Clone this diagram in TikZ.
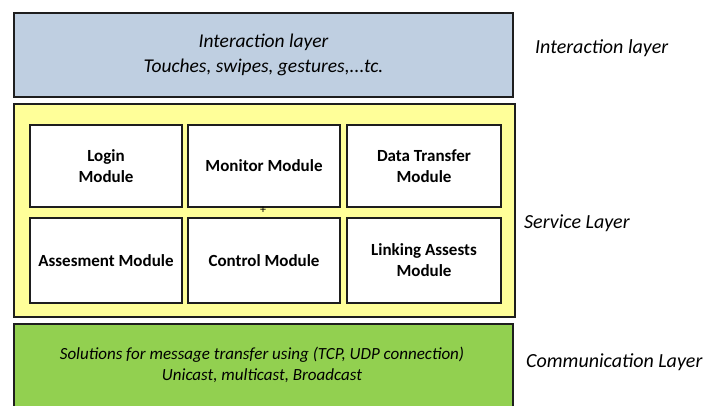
\documentclass[tikz,border=0pt]{standalone}
\usepackage{fontspec}
\setmainfont{Carlito}
\definecolor{iblue}{RGB}{191,207,225}
\definecolor{syellow}{RGB}{255,255,153}
\definecolor{cgreen}{RGB}{146,208,80}
\definecolor{edge}{RGB}{30,30,30}
\begin{document}
\begin{tikzpicture}[x=1pt,y=-1pt,
  layerbox/.style={draw=edge,line width=2pt,anchor=north west,inner sep=0pt,align=center,
     font=\fontsize{19.5}{25}\selectfont\itshape},
  modbox/.style={draw=edge,line width=2pt,fill=white,anchor=north west,inner sep=0pt,align=center,
     minimum width=152pt,font=\fontsize{17}{21}\selectfont\bfseries},
  sidelabel/.style={anchor=west,inner sep=0pt,font=\fontsize{20}{24}\selectfont\itshape}]
\clip (0,0) rectangle (705,405);
\fill[white] (0,0) rectangle (705,405);
% layers
\node[layerbox,fill=iblue,minimum width=499pt,minimum height=84pt] (inter) at (13,12)
  {Interaction layer\\Touches, swipes, gestures,...tc.};
\node[layerbox,fill=syellow,minimum width=501pt,minimum height=213pt] (serv) at (13,103) {};
\node[layerbox,fill=cgreen,minimum width=499pt,minimum height=90pt] (comm) at (13,323) {};
\node[font=\fontsize{17}{21}\selectfont\itshape,align=center,inner sep=0pt] (commtxt) at (262,365)
  {Solutions for message transfer using (TCP, UDP connection)\\Unicast, multicast, Broadcast};
% modules
\node[modbox,minimum height=82pt] (login) at (29,124) {Login\\Module};
\node[modbox,minimum height=82pt] (monitor) at (187,124) {Monitor Module};
\node[modbox,minimum height=82pt,minimum width=154pt] (data) at (346,124) {Data Transfer\\Module};
\node[modbox,minimum height=85pt] (assess) at (29,217) {Assesment Module};
\node[modbox,minimum height=85pt] (control) at (187,217) {Control Module};
\node[modbox,minimum height=85pt,minimum width=154pt] (link) at (346,217) {Linking Assests\\Module};
\node[inner sep=0pt,font=\fontsize{12}{12}\selectfont] (plus) at (263,210) {+};
% side labels
\node[sidelabel] (linter) at (535,48) {Interaction layer};
\node[sidelabel] (lserv) at (524,223) {Service Layer};
\node[sidelabel] (lcomm) at (526,362) {Communication Layer};
\end{tikzpicture}
\end{document}
